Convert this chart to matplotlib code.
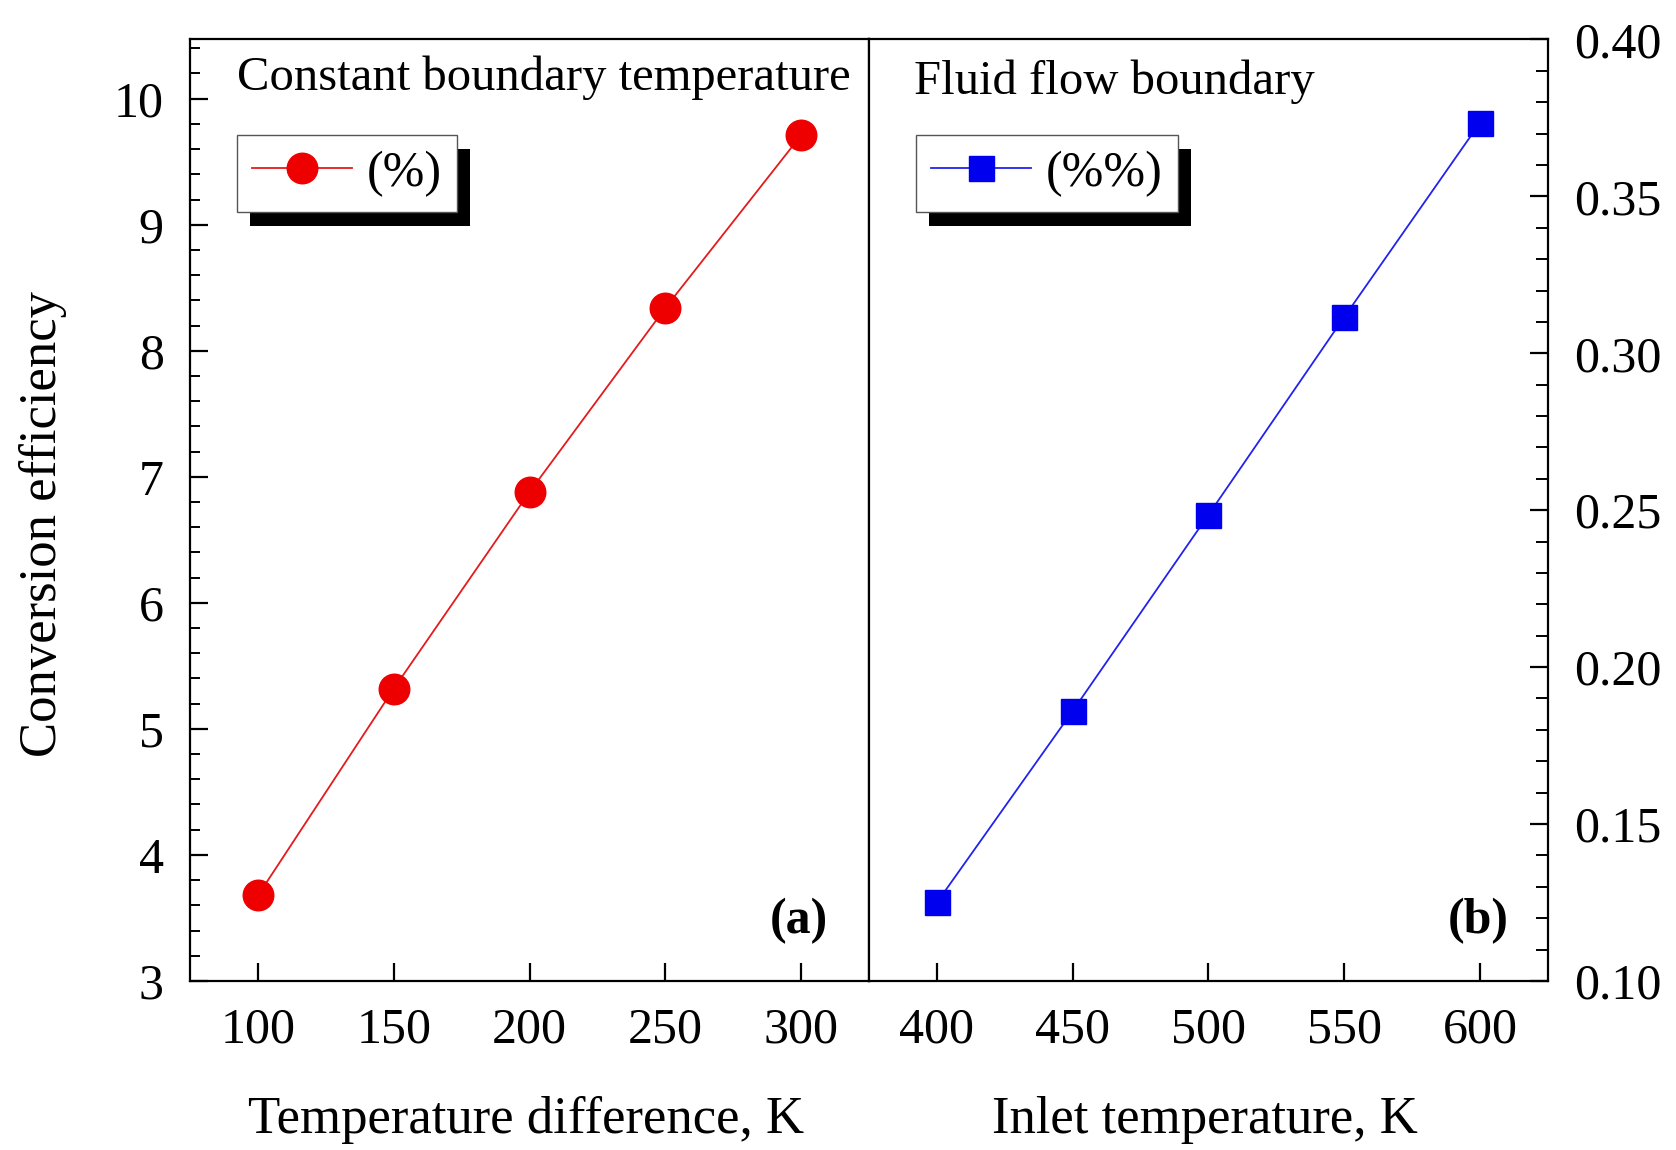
import matplotlib
matplotlib.use('Agg')
import matplotlib.pyplot as plt
from matplotlib.patches import Rectangle
from matplotlib.ticker import MultipleLocator

plt.rcParams['font.family'] = ['Liberation Serif', 'DejaVu Serif']

# data
dT = [100, 150, 200, 250, 300]
eff_a = [3.68, 5.32, 6.88, 8.34, 9.71]
T_in = [400, 450, 500, 550, 600]
eff_b = [0.125, 0.186, 0.2485, 0.3115, 0.3734]

xticks_a = [100, 150, 200, 250, 300]
xticks_b = [400, 450, 500, 550, 600]

fig = plt.figure(figsize=(16.76, 11.5), dpi=100)
ax1 = fig.add_axes([0.1135, 0.147, 0.405, 0.8187])
ax2 = fig.add_axes([0.5185, 0.147, 0.405, 0.8187])

fs = 36
for ax in (ax1, ax2):
    for s in ax.spines.values():
        s.set_linewidth(1.6)

# panel (a)
ax1.plot(dT, eff_a, color='#e41a1c', lw=1.3, marker='o', ms=22,
         mfc='#ee0000', mec='#ee0000', label='(%)')
ax1.set_xlim(75, 325)
ax1.set_ylim(3, 10.47)
ax1.set_xticks(xticks_a)
ax1.yaxis.set_major_locator(MultipleLocator(1))
ax1.yaxis.set_minor_locator(MultipleLocator(0.2))
ax1.tick_params(axis='y', which='both', direction='in', left=True, right=False, labelsize=fs, pad=19)
ax1.tick_params(axis='y', which='major', length=13, width=1.6)
ax1.tick_params(axis='y', which='minor', length=7, width=1.4)
ax1.tick_params(axis='x', direction='in', top=False, length=13, width=1.6, labelsize=fs, pad=19)

# panel (b)
ax2.plot(T_in, eff_b, color='#2222ee', lw=1.3, marker='s', ms=18,
         mfc='#0000ee', mec='#0000ee', label='(%%)')
ax2.set_xlim(375, 625)
ax2.set_ylim(0.10, 0.40)
ax2.set_xticks(xticks_b)
ax2.yaxis.tick_right()
ax2.yaxis.set_major_locator(MultipleLocator(0.05))
ax2.yaxis.set_minor_locator(MultipleLocator(0.01))
ax2.yaxis.set_major_formatter(matplotlib.ticker.FormatStrFormatter('%.2f'))
ax2.tick_params(axis='y', which='both', direction='in', left=False, right=True, labelsize=fs, pad=19)
ax2.tick_params(axis='y', which='major', length=13, width=1.6)
ax2.tick_params(axis='y', which='minor', length=9, width=1.4)
ax2.tick_params(axis='x', direction='in', top=False, length=13, width=1.6, labelsize=fs, pad=19)

ax1.text(0.069, 0.959, 'Constant boundary temperature', transform=ax1.transAxes,
         fontsize=35, va='center', ha='left')
ax2.text(0.066, 0.955, 'Fluid flow boundary', transform=ax2.transAxes,
         fontsize=35, va='center', ha='left')
ax1.text(0.94, 0.064, '(a)', transform=ax1.transAxes, fontsize=36,
         fontweight='bold', ha='right', va='center')
ax2.text(0.943, 0.064, '(b)', transform=ax2.transAxes, fontsize=36,
         fontweight='bold', ha='right', va='center')

fig.text(0.0255, 0.544, 'Conversion efficiency', rotation=90, fontsize=38,
         ha='center', va='center')
fig.text(0.314, 0.026, 'Temperature difference, K', fontsize=38, ha='center', va='center')
fig.text(0.719, 0.026, 'Inlet temperature, K', fontsize=38, ha='center', va='center')

legs = []
for ax in (ax1, ax2):
    leg = ax.legend(loc='upper left', bbox_to_anchor=(0.069, 0.898), fontsize=36,
                    frameon=True, fancybox=False, framealpha=1, edgecolor='#555555',
                    handlelength=2.0, handletextpad=0.3, borderpad=0.3,
                    borderaxespad=0, numpoints=1)
    leg.get_frame().set_linewidth(1.0)
    leg.set_zorder(6)
    legs.append((ax, leg))

# black drop shadow behind the legend boxes
fig.canvas.draw()
for ax, leg in legs:
    bb = leg.get_frame().get_window_extent().transformed(ax.transAxes.inverted())
    dx = 13 / (ax.bbox.width)
    dy = 14 / (ax.bbox.height)
    ax.add_patch(Rectangle((bb.x0 + dx, bb.y0 - dy), bb.width, bb.height,
                           transform=ax.transAxes, facecolor='black',
                           edgecolor='none', zorder=5.5, clip_on=False))

fig.savefig('out.png', dpi=100)
